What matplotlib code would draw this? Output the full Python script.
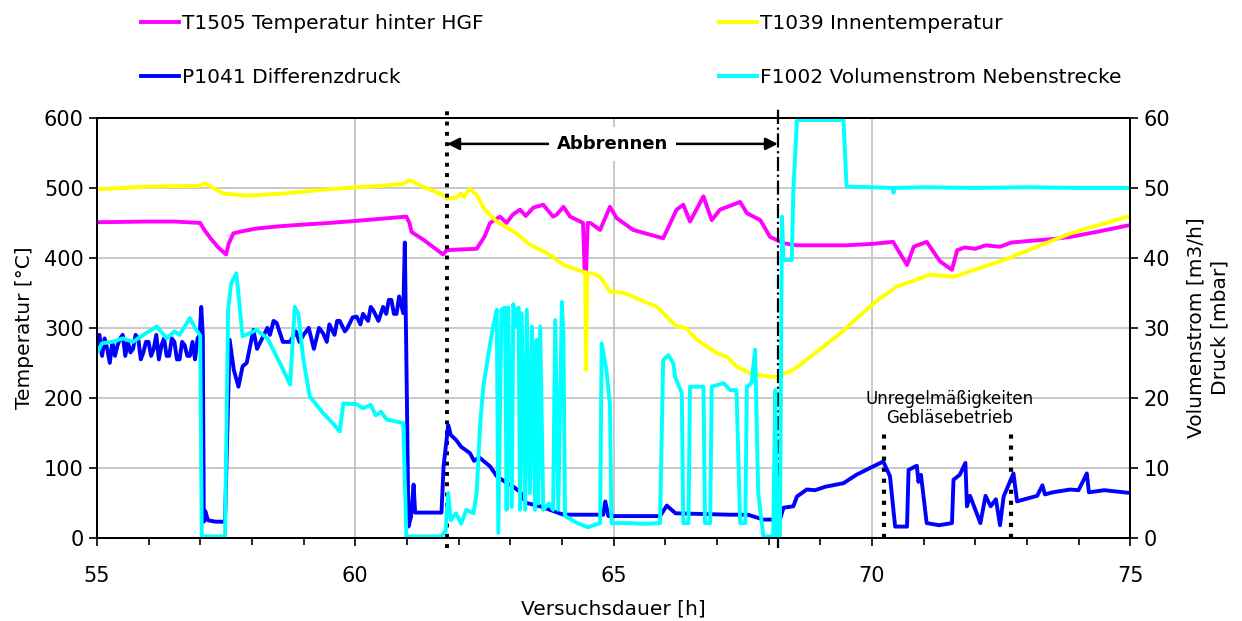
import matplotlib
matplotlib.use('Agg')
import matplotlib.pyplot as plt
from matplotlib.ticker import MultipleLocator

plt.rcParams['font.family'] = ['DejaVu Sans']
plt.rcParams['font.size'] = 14.5

# T1505 Temperatur hinter HGF [°C]
hgf_t = [55.0, 56.0, 56.5, 57.0, 57.08, 57.2, 57.35, 57.5, 57.55, 57.64, 57.8, 58.09, 58.5,
         58.86, 59.5, 60.03, 60.5, 60.99, 61.05, 61.09, 61.32, 61.5, 61.7, 61.77, 62.0, 62.35,
         62.5, 62.61, 62.8, 62.93, 63.05, 63.19, 63.3, 63.45, 63.64, 63.83, 63.9, 64.03, 64.16,
         64.41, 64.44, 64.47, 64.5, 64.55, 64.74, 64.93, 65.06, 65.38, 65.96, 66.22, 66.35,
         66.48, 66.74, 66.9, 67.06, 67.45, 67.58, 67.84, 68.03, 68.29, 68.55, 69.0, 69.5, 70.0,
         70.41, 70.68, 70.81, 71.06, 71.32, 71.55, 71.65, 71.8, 72.0, 72.2, 72.48, 72.7, 73.0,
         73.5, 73.84, 74.4, 75.0]
hgf_v = [451, 452, 452, 450, 440, 428, 415, 405, 420, 435, 438, 442, 445,
         447, 450, 453, 456, 459, 450, 437, 426, 416, 405, 411, 412, 413,
         430, 450, 459, 450, 462, 469, 460, 472, 476, 459, 462, 473, 459,
         450, 383, 383, 450, 450, 440, 473, 457, 440, 428, 469, 476,
         452, 488, 454, 469, 480, 464, 454, 430, 421, 418, 418, 418, 420,
         423, 390, 416, 423, 395, 383, 411, 415, 413, 418, 416, 422, 424,
         427, 430, 438, 447]

# T1039 Innentemperatur [°C]
inn_t = [55.0, 55.5, 56.0, 57.0, 57.09, 57.25, 57.45, 57.9, 58.61, 59.3, 60.03, 60.5, 60.93,
         61.05, 61.09, 61.3, 61.7, 61.77, 61.95, 62.05, 62.1, 62.22, 62.35, 62.5, 62.74, 62.9,
         63.12, 63.38, 63.71, 64.03, 64.42, 64.45, 64.47, 64.49, 64.6, 64.74, 64.93, 65.2,
         65.84, 66.22, 66.4, 66.61, 67.0, 67.2, 67.38, 67.64, 68.03, 68.16, 68.48, 69.32,
         70.03, 70.48, 71.13, 71.58, 72.55, 73.84, 75.0]
inn_v = [498, 500, 502, 503, 507, 500, 492, 489, 492, 497, 501, 503, 506,
         511, 510, 502, 490, 485, 486, 492, 487, 499, 490, 470, 452, 445,
         435, 419, 407, 390, 380, 380, 240, 378, 378, 373, 352, 350,
         330, 302, 300, 283, 264, 258, 245, 235, 230, 230, 240, 288,
         335, 359, 376, 373, 397, 435, 460]

# P1041 Differenzdruck [mbar]
dp_t = [55.0, 55.05, 55.1, 55.15, 55.2, 55.25, 55.3, 55.35, 55.4, 55.45, 55.5, 55.55, 55.6,
        55.65, 55.7, 55.75, 55.8, 55.85, 55.9, 55.95, 56.0, 56.05, 56.1, 56.15, 56.2, 56.25,
        56.3, 56.35, 56.4, 56.45, 56.5, 56.55, 56.6, 56.65, 56.7, 56.75, 56.8, 56.85, 56.9,
        56.95, 56.99, 57.02, 57.05, 57.07, 57.1, 57.15, 57.3, 57.48, 57.57, 57.65, 57.74,
        57.82, 57.9, 58.03, 58.1, 58.2, 58.3, 58.35, 58.42, 58.48, 58.6, 58.74, 58.85, 58.92,
        59.0, 59.1, 59.2, 59.3, 59.38, 59.45, 59.5, 59.6, 59.65, 59.7, 59.8, 59.85, 59.95,
        60.03, 60.1, 60.15, 60.25, 60.3, 60.35, 60.45, 60.54, 60.6, 60.65, 60.7, 60.75, 60.8,
        60.85, 60.9, 60.93, 60.96, 61.0, 61.03, 61.08, 61.13, 61.16, 61.4, 61.67, 61.71, 61.8,
        61.85, 61.95, 62.05, 62.22, 62.3, 62.4, 62.61, 62.74, 62.9, 63.06, 63.2, 63.3, 63.58,
        64.03, 64.8, 64.84, 64.9, 65.9, 66.03, 66.2, 67.25, 67.6, 67.9, 68.22, 68.29, 68.48,
        68.55, 68.74, 68.9, 69.1, 69.45, 69.7, 69.97, 70.22, 70.35, 70.45, 70.68, 70.71,
        70.87, 70.9, 70.95, 71.06, 71.3, 71.55, 71.58, 71.7, 71.81, 71.84, 71.9, 72.1, 72.2,
        72.3, 72.4, 72.48, 72.55, 72.74, 72.81, 73.0, 73.2, 73.3, 73.35, 73.5, 73.84, 74.0,
        74.16, 74.2, 74.5, 75.0]
dp_v = [27, 29, 26, 28.5, 27, 25, 28, 26, 27.5, 28.5, 29, 26, 28,
        26.5, 27, 29, 28.5, 25.5, 26.5, 28, 28, 26, 27, 29, 25.5, 27.5,
        28.5, 26, 26, 28.5, 28, 25.5, 25.5, 28, 27.5, 26, 26, 28, 25.5,
        28.5, 29, 33, 29, 2.3, 3.8, 2.5, 2.3, 2.3, 28.3, 24, 21.6,
        24.5, 25, 29.7, 27, 28.5, 30, 29, 31, 30.7, 28, 28, 29.5, 28,
        29, 30, 27, 30, 29.2, 28, 30.5, 29, 31, 31, 29.5, 30, 31.5,
        31.6, 30.5, 32, 31, 33, 32.5, 31, 33, 32, 34, 34, 32, 32,
        34.5, 33, 32.1, 42.2, 20, 1.6, 3, 7.6, 3.6, 3.6, 3.6, 10.2, 16.1,
        14.7, 14, 13, 12.1, 11, 11.5, 10.2, 8.8, 8, 7.3, 6.5, 5, 4.5,
        3.3, 3.3, 5.2, 3.1, 3.1, 4.6, 3.5, 3.3, 3.3, 2.6, 2.6, 4.3, 4.5,
        5.9, 6.9, 6.8, 7.3, 7.8, 9, 10, 10.9, 8.8, 1.6, 1.6, 9.7,
        10.3, 8, 9, 2.1, 1.8, 2.1, 8.3, 9, 10.7, 4.5, 6, 2.1, 6,
        4.5, 5.5, 1.8, 5.9, 9.2, 5.2, 5.6, 6, 7.5, 6.2, 6.5, 6.9, 6.8,
        9.2, 6.5, 6.8, 6.4]

# F1002 Volumenstrom Nebenstrecke [m3/h]
vf_t = [55.0, 55.1, 55.3, 55.5, 55.7, 55.9, 56.16, 56.35, 56.5, 56.6, 56.8, 56.9, 57.0,
        57.03, 57.48, 57.54, 57.6, 57.7, 57.82, 58.09, 58.3, 58.54, 58.74, 58.83, 58.9, 58.99,
        59.12, 59.38, 59.55, 59.7, 59.77, 60.03, 60.15, 60.3, 60.4, 60.5, 60.61, 60.93, 60.99,
        61.67, 61.75, 61.8, 61.85, 61.95, 62.05, 62.15, 62.29, 62.35, 62.42, 62.48, 62.58,
        62.67, 62.74, 62.77, 62.83, 62.9, 62.93, 62.96, 63.03, 63.06, 63.12, 63.16, 63.19,
        63.22, 63.29, 63.32, 63.38, 63.42, 63.48, 63.51, 63.54, 63.58, 63.64, 63.75, 63.83,
        63.87, 63.93, 64.0, 64.03, 64.06, 64.3, 64.5, 64.74, 64.77, 64.86, 64.93, 64.96, 65.3,
        65.6, 65.9, 65.96, 66.06, 66.16, 66.19, 66.32, 66.35, 66.45, 66.48, 66.74, 66.77,
        66.87, 66.9, 67.13, 67.26, 67.38, 67.45, 67.55, 67.58, 67.67, 67.74, 67.8, 67.9, 68.09,
        68.13, 68.16, 68.22, 68.26, 68.29, 68.45, 68.48, 68.55, 69.0, 69.45, 69.51, 70.0,
        70.4, 70.42, 70.44, 71.0, 72.0, 73.0, 74.0, 75.0]
vf_v = [26.4, 27.8, 28, 28.5, 28, 29, 30.2, 28.5, 29.5, 29, 31.4, 30, 28.9,
        0.2, 0.2, 32.6, 36.4, 37.8, 28.8, 29.7, 28.5, 25, 21.9, 33, 32, 25.8,
        20.2, 17.8, 16.5, 15.2, 19.2, 19.1, 18.5, 19, 17.5, 18, 16.9, 16.4, 0.2,
        0.2, 1, 6.4, 2.5, 3.5, 2, 4, 3.5, 6.4, 16.4, 21.6, 26.4,
        30.2, 32.6, 0.7, 32.6, 32.9, 4.0, 32.9, 4.4, 33.4, 30.2, 32.9, 4.0,
        32.1, 4.0, 32.6, 6.4, 30.2, 4.0, 28.3, 4.9, 30.2, 4.0, 4.9, 4.0,
        31.1, 4.0, 33.7, 28.8, 3.1, 2.1, 1.5, 2.1, 27.8, 24, 19.1, 2.1, 2.1,
        2.0, 2.1, 25.4, 26.1, 24.9, 23.0, 20.7, 2.1, 2.1, 21.6, 21.6, 2.1,
        2.1, 21.6, 22.1, 21.1, 21.1, 2.1, 2.1, 21.6, 22.1, 26.9, 6.4, 0.2, 0.2,
        21.1, 0.2, 0.2, 45.9, 39.7, 39.7, 49.7, 59.7, 59.7, 59.7, 50.2, 50.1,
        50, 49.3, 50, 50.1, 50, 50.1, 50, 50]

labels = ['T1505 Temperatur hinter HGF', 'P1041 Differenzdruck',
          'T1039 Innentemperatur', 'F1002 Volumenstrom Nebenstrecke']

burn_start, burn_end = 61.78, 68.18
fan_start, fan_end = 70.24, 72.70


def main():
    fig = plt.figure(figsize=(12.42, 6.21), dpi=100)
    ax = fig.add_axes([0.078, 0.134, 0.832, 0.676])
    ax2 = ax.twinx()

    lw = 2.8
    ln_hgf, = ax.plot(hgf_t, hgf_v, color='#ff00ff', lw=lw)
    ln_inn, = ax.plot(inn_t, inn_v, color='#ffff00', lw=lw)
    ln_dp, = ax2.plot(dp_t, dp_v, color='#0000ff', lw=lw)
    ln_vf, = ax2.plot(vf_t, vf_v, color='#00ffff', lw=lw)

    ax.set_xlim(55, 75)
    ax.set_ylim(0, 600)
    ax2.set_ylim(0, 60)
    ax.xaxis.set_major_locator(MultipleLocator(5))
    ax.xaxis.set_minor_locator(MultipleLocator(1))
    ax.yaxis.set_major_locator(MultipleLocator(100))
    ax2.yaxis.set_major_locator(MultipleLocator(10))
    ax.grid(True, which='major', color='#c0c0c0', lw=1.2)
    ax.tick_params(which='both', direction='out', labelsize=15)
    ax.tick_params(which='major', length=6, width=1.2)
    ax.tick_params(which='minor', length=5, width=1.2)
    ax.tick_params(axis='x', pad=14)
    ax2.tick_params(direction='out', length=6, width=1.2, labelsize=15)
    for sp in list(ax.spines.values()) + list(ax2.spines.values()):
        sp.set_linewidth(1.4)

    ax.set_xlabel('Versuchsdauer [h]', fontsize=14.5, labelpad=10)
    ax.set_ylabel('Temperatur [°C]', fontsize=14.5, labelpad=7)
    ax2.set_ylabel('Volumenstrom [m3/h]\nDruck [mbar]', fontsize=14.5, labelpad=12,
                   linespacing=1.35)

    # burn-off phase
    for xv, ls, w in [(burn_start, ':', 2.8), (burn_end, '-.', 1.6)]:
        ax.plot([xv, xv], [-14, 614], color='black', ls=ls, lw=w, clip_on=False)
    ax.annotate('', xy=(burn_start, 563), xytext=(burn_end, 563),
                arrowprops=dict(arrowstyle='<|-|>', color='black', lw=1.8,
                                mutation_scale=18, shrinkA=0, shrinkB=0))
    ax.text((burn_start + burn_end) / 2, 563, 'Abbrennen', ha='center', va='center',
            fontsize=13, fontweight='bold',
            bbox=dict(facecolor='white', edgecolor='none', pad=6))

    # fan irregularities
    for xv in (fan_start, fan_end):
        ax.plot([xv, xv], [0, 154], color='black', ls=':', lw=3)
    ax.text(71.5, 158, 'Unregelmäßigkeiten\nGebläsebetrieb', ha='center', va='bottom',
            fontsize=12, linespacing=1.1)

    fig.legend([ln_hgf, ln_dp, ln_inn, ln_vf], labels, loc='upper left',
               bbox_to_anchor=(0.099, 1.006), ncol=2, frameon=False, fontsize=14.5,
               handlelength=1.9, handletextpad=0.15, columnspacing=11.65,
               labelspacing=1.7)

    fig.savefig('out.png', dpi=100)


if __name__ == '__main__':
    main()
